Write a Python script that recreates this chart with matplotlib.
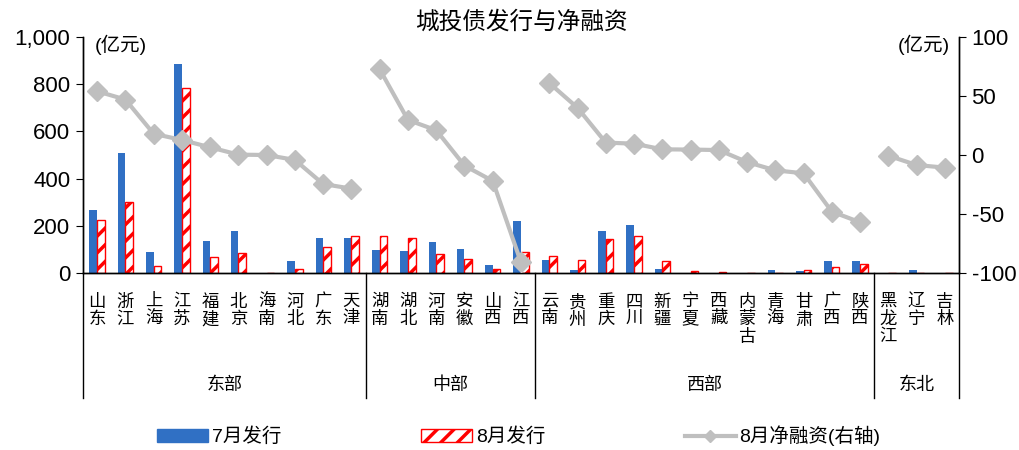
import numpy as np
import matplotlib
matplotlib.use('Agg')
import matplotlib.pyplot as plt
import matplotlib.transforms as mtransforms
from matplotlib.patches import Patch
from matplotlib.lines import Line2D

plt.rcParams['font.family'] = ['Liberation Sans', 'Noto Sans CJK SC']
plt.rcParams['axes.unicode_minus'] = False
plt.rcParams['hatch.linewidth'] = 2.5

# 各区域及省份
regions = ['东部', '中部', '西部', '东北']
region_sizes = [10, 6, 12, 3]
provinces = ['山东', '浙江', '上海', '江苏', '福建', '北京', '海南', '河北', '广东', '天津',
             '湖南', '湖北', '河南', '安徽', '山西', '江西',
             '云南', '贵州', '重庆', '四川', '新疆', '宁夏', '西藏', '内蒙古', '青海', '甘肃', '广西', '陕西',
             '黑龙江', '辽宁', '吉林']

# 发行规模(亿元)
jul_issue = [266, 508, 89, 884, 134, 177, 0, 51, 147, 147,
             96, 92, 130, 100, 32, 220,
             56, 14, 178, 203, 17, 0, 0, 0, 14, 7, 49, 49,
             2, 12, 0]
aug_issue = [223, 300, 30, 782, 68, 83, 0, 15, 109, 155,
             158, 150, 82, 61, 16, 90,
             71, 54, 143, 155, 49, 7, 6, 0, 0, 11, 24, 38,
             0, 0, 0]
# 8月净融资(亿元)
aug_net = [54, 47, 18, 12.7, 6.5, 0.3, 0, -4.2, -24.6, -28.5,
           72.6, 29.7, 21, -9, -22, -91,
           61, 40, 10.5, 9.6, 4.8, 4.6, 4.2, -6, -13, -15.5, -48, -57,
           -0.6, -8.5, -10.7]

blue = '#3070C4'
red = '#FF0000'
grey = '#BFBFBF'

fig = plt.figure(figsize=(10.2, 4.5), dpi=100)
ax = fig.add_axes([83 / 1020, 1 - 273 / 450, 876 / 1020, 236 / 450])
ax2 = ax.twinx()

x = np.arange(len(provinces))
w = 0.27
ax.bar(x - w / 2, jul_issue, w, color=blue, zorder=2)
ax.bar(x + w / 2, aug_issue, w, facecolor='white', edgecolor=red, hatch='//',
       linewidth=1.0, zorder=2)

# 净融资折线按区域分段
start = 0
for n in region_sizes:
    xs = x[start:start + n]
    ax2.plot(xs, aug_net[start:start + n], color=grey, lw=3, marker='D', ms=10,
             zorder=3)
    start += n

ax.set_xlim(-0.5, len(provinces) - 0.5)
ax.set_ylim(0, 1000)
ax.set_yticks(range(0, 1001, 200))
ax.set_yticklabels([f'{v:,}' for v in range(0, 1001, 200)])
ax2.set_ylim(-100, 100)
ax2.set_yticks([-100, -50, 0, 50, 100])

ax.set_xticks(x)
ax.set_xticklabels(['\n'.join(p) for p in provinces], fontsize=12.5, linespacing=1.12)
ax.tick_params(axis='x', length=0, pad=15)
ax.tick_params(axis='y', direction='out', length=5, labelsize=16, pad=4)
ax2.tick_params(axis='y', direction='out', length=5, labelsize=16, pad=4)

for a in (ax, ax2):
    a.spines['top'].set_visible(False)
    for s in ('left', 'right', 'bottom'):
        a.spines[s].set_color('black')
        a.spines[s].set_linewidth(1.0)

# 区域分隔线与区域名称
trans = mtransforms.blended_transform_factory(ax.transData, ax.transAxes)
bounds = np.concatenate([[0], np.cumsum(region_sizes)])
for b in bounds:
    ax.plot([b - 0.5, b - 0.5], [0, -0.53], transform=trans, clip_on=False,
            color='black', lw=1.0)
for name, lo, hi in zip(regions, bounds[:-1], bounds[1:]):
    ax.text((lo + hi - 1) / 2, -0.475, name, transform=trans, ha='center',
            va='center', fontsize=13)

ax.text(0.013, 0.965, '(亿元)', transform=ax.transAxes, ha='left', va='center',
        fontsize=14)
ax.text(0.99, 0.965, '(亿元)', transform=ax.transAxes, ha='right', va='center',
        fontsize=14)

fig.text(0.511, 0.95, '城投债发行与净融资', ha='center', va='center', fontsize=17)

handles = [Patch(facecolor=blue, edgecolor=blue),
           Patch(facecolor='white', edgecolor=red, hatch='//'),
           Line2D([], [], color=grey, lw=3, marker='D', ms=6)]
labels = ['7月发行', '8月发行', '8月净融资(右轴)']
fig.legend(handles, labels, ncol=3, loc='center', bbox_to_anchor=(519 / 1020, 1 - 436 / 450),
           frameon=False, fontsize=14, columnspacing=7.2, handlelength=2.6,
           handletextpad=0.2)

fig.savefig('out.png', dpi=100)
